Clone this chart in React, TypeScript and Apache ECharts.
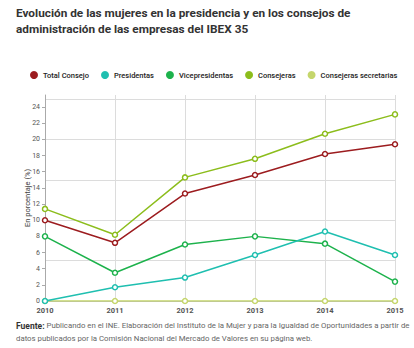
import React, { useEffect, useRef } from "react";
import * as echarts from "echarts";

const years = ["2010", "2011", "2012", "2013", "2014", "2015"];
const totalConsejo = [10.0, 7.2, 13.3, 15.6, 18.2, 19.4];
const presidentas = [0, 1.7, 2.9, 5.7, 8.6, 5.7];
const vicepresidentas = [8.0, 3.5, 7.0, 8.0, 7.1, 2.4];
const consejeras = [11.4, 8.2, 15.3, 17.6, 20.7, 23.1];
const consejerasSecretarias = [0, 0, 0, 0, 0, 0];
const gridValues = [5, 10, 15, 20, 25];

const seriesDefs = [
  { name: "Total Consejo", data: totalConsejo, color: "#9c1c1f" },
  { name: "Presidentas", data: presidentas, color: "#1fbfb0" },
  { name: "Vicepresidentas", data: vicepresidentas, color: "#1db24c" },
  { name: "Consejeras", data: consejeras, color: "#8cbd1c" },
  { name: "Consejeras secretarias", data: consejerasSecretarias, color: "#c5d66c" },
];

const FONT = "Roboto, 'Noto Sans', sans-serif";

export default function App() {
  const ref = useRef<HTMLDivElement>(null);
  useEffect(() => {
    document.body.style.margin = "0";
    const chart = echarts.init(ref.current!, null, { renderer: "svg" });
    const series: any[] = seriesDefs.map((s, i) => ({
      name: s.name,
      type: "line",
      data: s.data,
      color: s.color,
      symbol: "circle",
      symbolSize: 5,
      itemStyle: { color: "#fff", borderColor: s.color, borderWidth: 1.5 },
      lineStyle: { color: s.color, width: 1.5 },
      z: 10 - i,
      ...(i === 4
        ? {
            markLine: {
              silent: true,
              symbol: "none",
              label: { show: false },
              lineStyle: { color: "#dcdcdc", width: 1, type: "solid" },
              z: 0,
              data: gridValues.map((v) => ({ yAxis: v })),
            },
          }
        : {}),
    }));
    chart.setOption({
      animation: false,
      textStyle: { fontFamily: FONT },
      graphic: [
        {
          type: "text",
          left: 16,
          top: 5,
          style: {
            text: "Evolución de las mujeres en la presidencia y en los consejos de\nadministración de las empresas del IBEX 35",
            fontFamily: FONT,
            fontSize: 11.8,
            fontWeight: "bold",
            fill: "#333",
            lineHeight: 16,
          },
        },
        {
          type: "text",
          left: 16,
          top: 319,
          style: {
            text: "{b|Fuente:} Publicando en el INE. Elaboración del Instituto de la Mujer y para la Igualdad de Oportunidades a partir de\ndatos publicados por la Comisión Nacional del Mercado de Valores en su página web.",
            fontFamily: FONT,
            fontSize: 7.8,
            fill: "#666",
            lineHeight: 13,
            rich: {
              b: { fontWeight: "bold", fill: "#333", fontSize: 8.5, fontFamily: FONT },
            },
          },
        },
      ],
      legend: {
        top: 66,
        left: 25,
        icon: "circle",
        itemWidth: 8,
        itemHeight: 8,
        itemGap: 12,
        textStyle: { fontSize: 7.5, color: "#222", fontWeight: 500, fontFamily: FONT },
        data: seriesDefs.map((s) => ({ name: s.name, itemStyle: { color: s.color, borderWidth: 0 } })),
      },
      grid: { left: 45, right: 19, top: 95, bottom: 47 },
      xAxis: {
        type: "category",
        data: years,
        boundaryGap: false,
        axisLine: { lineStyle: { color: "#bbb" } },
        axisTick: { show: false },
        axisLabel: { fontSize: 7.5, color: "#555", fontWeight: "bold", margin: 5 },
        splitLine: { show: true, lineStyle: { color: "#dcdcdc" } },
      },
      yAxis: {
        type: "value",
        min: 0,
        max: 25.5,
        interval: 2,
        name: "En porcentaje (%)",
        nameLocation: "middle",
        nameGap: 14,
        nameMoveOverlap: false,
        nameTextStyle: { fontSize: 7.5, color: "#444" },
        axisLine: { show: true, lineStyle: { color: "#aaa" } },
        axisTick: { show: true, length: 3, lineStyle: { color: "#aaa" } },
        axisLabel: { fontSize: 7, color: "#555", margin: 5, showMaxLabel: false },
        splitLine: { show: false },
      },
      series,
    });
    return () => chart.dispose();
  }, []);
  return <div ref={ref} style={{ width: 414, height: 348 }} />;
}
